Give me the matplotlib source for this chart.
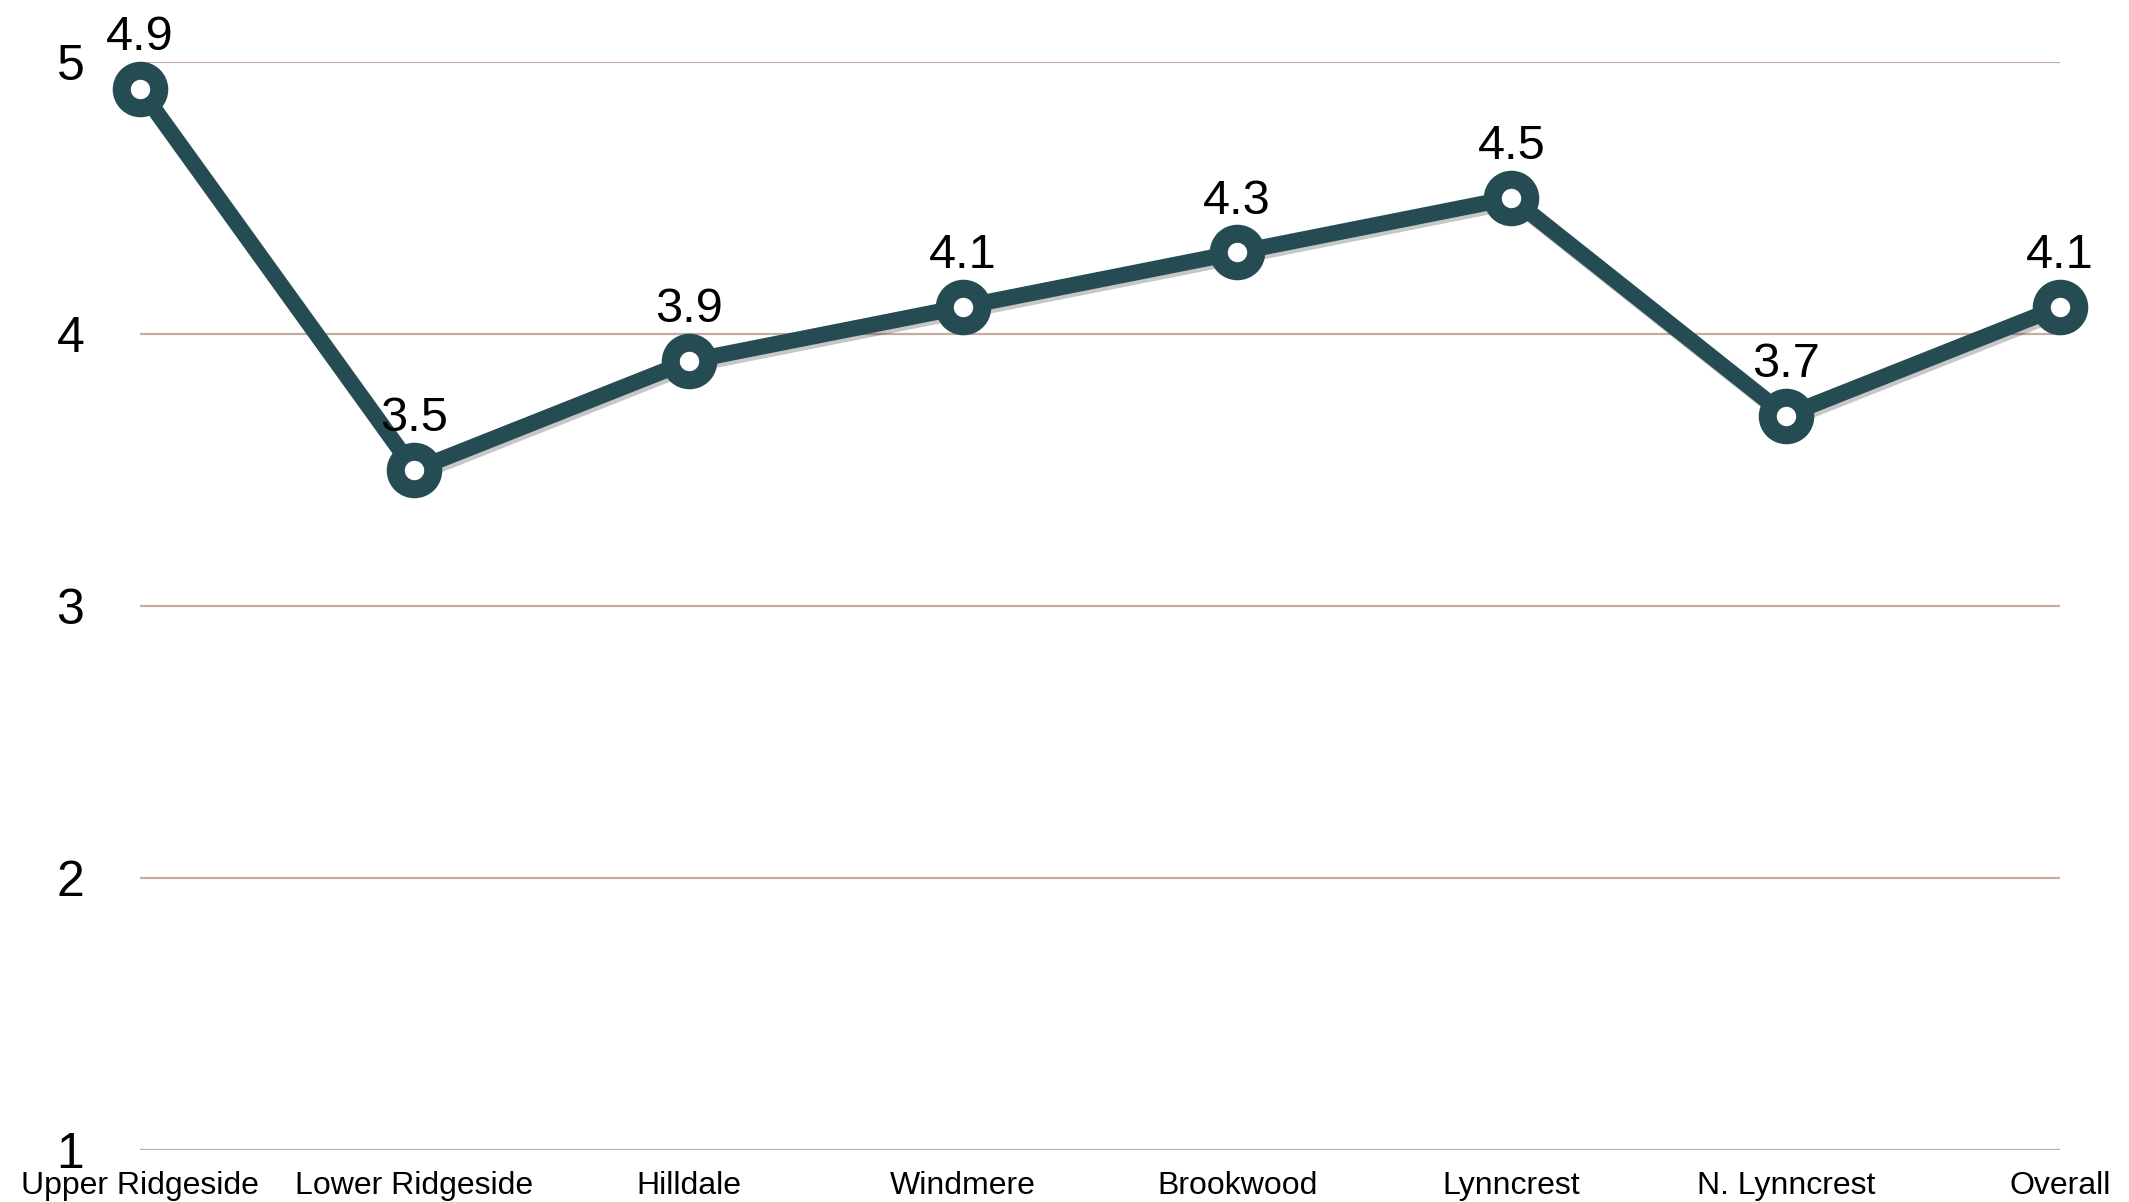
import matplotlib
matplotlib.use("Agg")
import matplotlib.pyplot as plt
import matplotlib.patheffects as pe

categories = ["Upper Ridgeside", "Lower Ridgeside", "Hilldale", "Windmere",
              "Brookwood", "Lynncrest", "N. Lynncrest", "Overall"]
values = [4.9, 3.5, 3.9, 4.1, 4.3, 4.5, 3.7, 4.1]
yticks = [1, 2, 3, 4, 5]

plt.rcParams['font.family'] = ['Liberation Sans', 'DejaVu Sans']

W, H, DPI = 2129, 1202, 100
fig = plt.figure(figsize=(W / DPI, H / DPI), dpi=DPI)
ax = fig.add_axes([140 / W, 1 - 1150 / H, (2060 - 140) / W, (1150 - 62) / H])

line_color = '#264c53'
grid_color = '#c4ad9f'

x = list(range(len(categories)))
for yv in yticks:
    ax.axhline(yv, color=grid_color, lw=1.6, zorder=1)

shadow = [pe.SimpleLineShadow(offset=(2, -2.5), shadow_color='black', alpha=0.22), pe.Normal()]
ax.plot(x, values, color=line_color, lw=11.5, zorder=3, clip_on=False,
        solid_capstyle='round', path_effects=shadow)
ax.plot(x, values, linestyle='none', marker='o', markersize=27,
        markerfacecolor='white', markeredgecolor=line_color, markeredgewidth=13,
        zorder=4, clip_on=False)

for xi, v in zip(x, values):
    ax.annotate(f"{v:.1f}", (xi, v), xytext=(0, 28), textcoords='offset points',
                ha='center', va='baseline', fontsize=35, color='black', zorder=5,
                annotation_clip=False)

ax.set_xlim(0, len(categories) - 1)
ax.set_ylim(1, 5)
ax.set_yticks(yticks)
ax.set_yticklabels([str(t) for t in yticks], fontsize=36)
ax.set_xticks(x)
ax.set_xticklabels(categories, fontsize=23)
ax.tick_params(axis='y', length=0, pad=40)
ax.tick_params(axis='x', length=0, pad=15)
for s in ax.spines.values():
    s.set_visible(False)
ax.set_facecolor('white')

fig.savefig('out.png', dpi=DPI, facecolor='white')
